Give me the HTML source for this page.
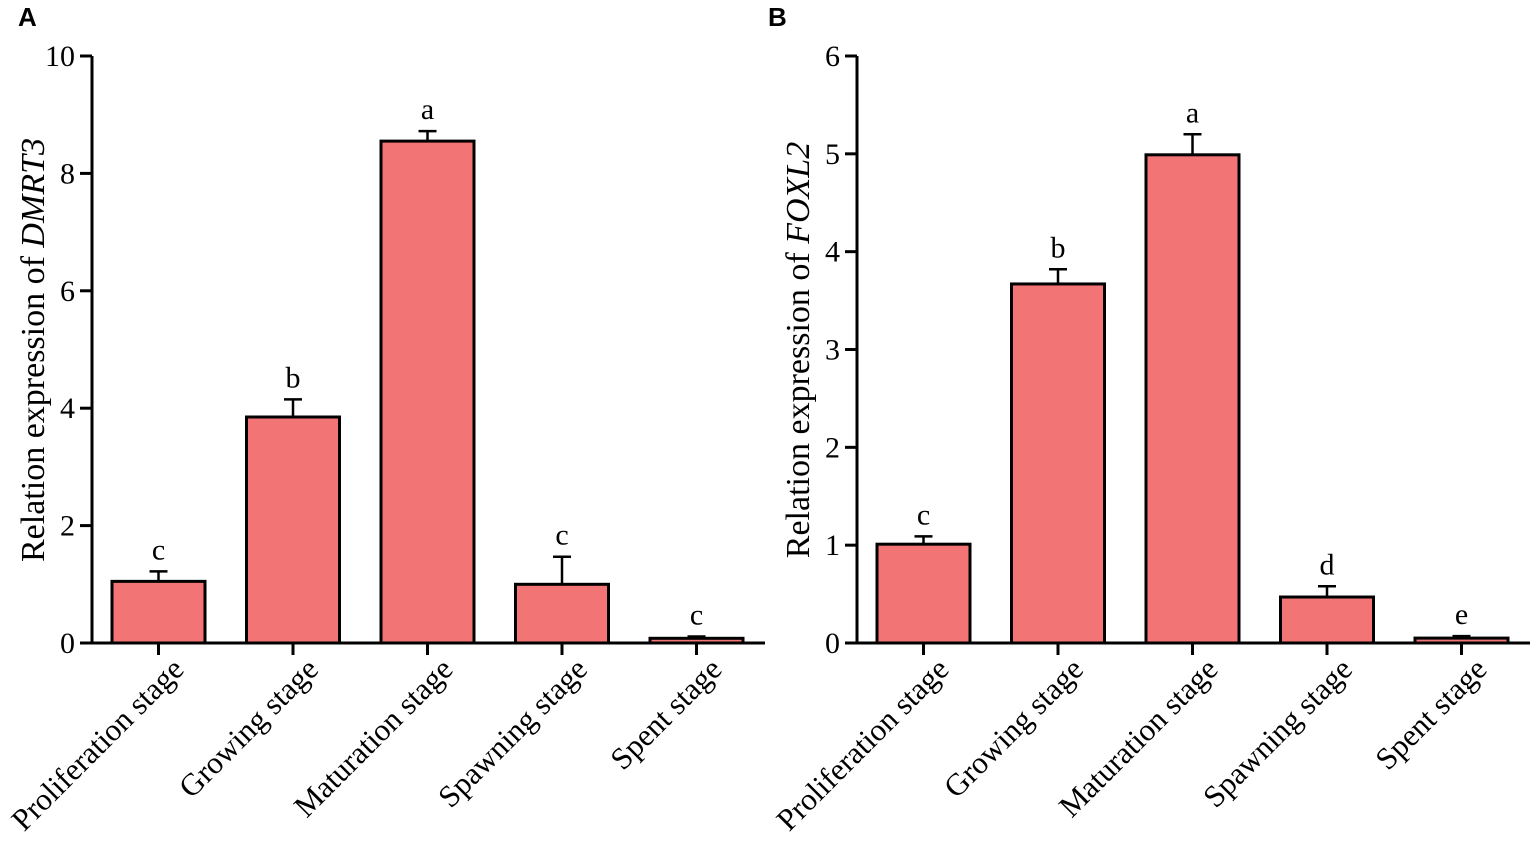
<!DOCTYPE html>
<html><head><meta charset="utf-8"><style>
html,body{margin:0;padding:0;background:#fff;}
svg{display:block;font-family:"Liberation Serif",serif;}
</style></head><body>
<svg id="chart" width="1535" height="844" viewBox="0 0 1535 844">
<text x="18" y="26" font-family="Liberation Sans, sans-serif" font-weight="bold" font-size="26">A</text>
<text x="768" y="26" font-family="Liberation Sans, sans-serif" font-weight="bold" font-size="26">B</text>
<g id="pa"></g>
<g id="pb"></g>
</svg>
<script>
const categories = ["Proliferation stage","Growing stage","Maturation stage","Spawning stage","Spent stage"];
const valuesA = [1.05, 3.85, 8.55, 1.0, 0.08];
const errorsA = [0.17, 0.3, 0.17, 0.47, 0.03];
const lettersA = ["c","b","a","c","c"];
const ticksA = [0,2,4,6,8,10];
const valuesB = [1.01, 3.67, 4.99, 0.47, 0.05];
const errorsB = [0.08, 0.15, 0.21, 0.11, 0.02];
const lettersB = ["c","b","a","d","e"];
const ticksB = [0,1,2,3,4,5,6];

const NS = "http://www.w3.org/2000/svg";
function mk(parent, tag, attrs){const e=document.createElementNS(NS,tag);for(const k in attrs)e.setAttribute(k,attrs[k]);parent.appendChild(e);return e;}

function panel(g, cfg){
  const y0=643, yTop=56;
  const yScale=v=>y0-(v/cfg.max)*(y0-yTop);
  const step=134.5, bw=93;
  const xc=i=>cfg.x0+20+bw/2+i*step;
  const ax=mk(g,"line",{x1:cfg.x0,y1:yTop,x2:cfg.x0,y2:y0+1.5,stroke:"#000","stroke-width":3});
  
  
  cfg.ticks.forEach(t=>{
    const y=yScale(t);
    const tl=mk(g,"line",{x1:cfg.x0-12,y1:y,x2:cfg.x0,y2:y,stroke:"#000","stroke-width":3});
    
    
    const tx=mk(g,"text",{x:cfg.x0-17,y:y+10,"text-anchor":"end","font-size":30});
    tx.textContent=t;
    
    
  });
  const yt=mk(g,"text",{transform:`translate(${cfg.x0-48},350) rotate(-90)`,"text-anchor":"middle","font-size":34});
  yt.innerHTML=`Relation expression of <tspan font-style="italic">${cfg.gene}</tspan>`;
  
  
  cfg.values.forEach((v,i)=>{
    const c=xc(i), top=yScale(v), et=yScale(v+cfg.errors[i]);
    const el=mk(g,"line",{x1:c,y1:top,x2:c,y2:et,stroke:"#000","stroke-width":2.5});
    
    
    const ec=mk(g,"line",{x1:c-9,y1:et,x2:c+9,y2:et,stroke:"#000","stroke-width":2.5});
    
    
    const b=mk(g,"rect",{x:c-bw/2,y:top,width:bw,height:y0-top,fill:"#f27474",stroke:"#000","stroke-width":3});
    
    
    const lt=mk(g,"text",{x:c,y:et-12,"text-anchor":"middle","font-size":30});
    lt.textContent=cfg.letters[i];
    
    
    const tk=mk(g,"line",{x1:c,y1:y0,x2:c,y2:y0+12,stroke:"#000","stroke-width":3});
    
    
    const xl=mk(g,"text",{transform:`translate(${c+27},${y0+28}) rotate(-45)`,"text-anchor":"end","font-size":31});
    xl.textContent=categories[i];
    
    
  });
  const xa=mk(g,"line",{x1:cfg.x0,y1:y0,x2:cfg.x0+cfg.len,y2:y0,stroke:"#000","stroke-width":3});
  
  
}
panel(document.getElementById("pa"),{x0:92,max:10,ticks:ticksA,values:valuesA,errors:errorsA,letters:lettersA,gene:"DMRT3",len:673});
panel(document.getElementById("pb"),{x0:857,max:6,ticks:ticksB,values:valuesB,errors:errorsB,letters:lettersB,gene:"FOXL2",len:673});
</script>
</body></html>
